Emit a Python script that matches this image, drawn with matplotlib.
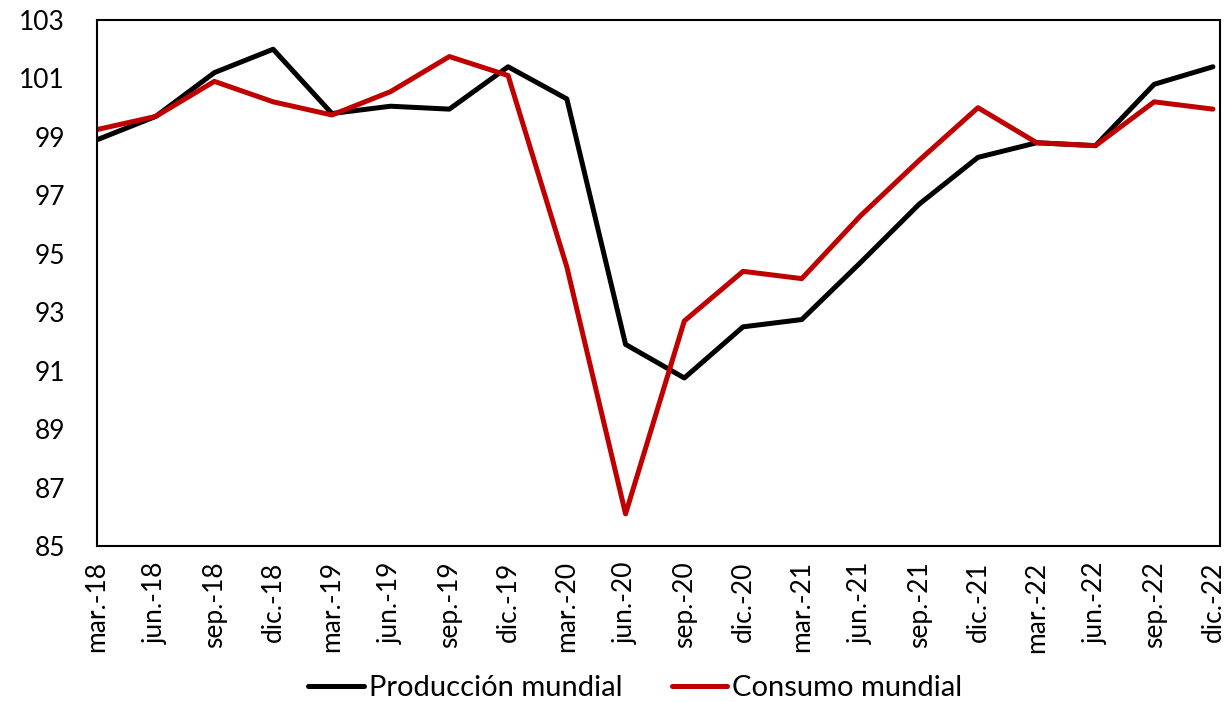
import matplotlib
matplotlib.use('Agg')
import matplotlib.pyplot as plt

plt.rcParams['font.family'] = ['Lato', 'DejaVu Sans']

trimestres = ['mar.-18', 'jun.-18', 'sep.-18', 'dic.-18', 'mar.-19', 'jun.-19', 'sep.-19', 'dic.-19',
              'mar.-20', 'jun.-20', 'sep.-20', 'dic.-20', 'mar.-21', 'jun.-21', 'sep.-21', 'dic.-21',
              'mar.-22', 'jun.-22', 'sep.-22', 'dic.-22']

produccion = [98.9, 99.7, 101.2, 102.0, 99.8, 100.05, 99.95, 101.4,
              100.3, 91.9, 90.75, 92.5, 92.75, 94.7, 96.7, 98.3,
              98.8, 98.7, 100.8, 101.4]

consumo = [99.25, 99.7, 100.9, 100.2, 99.75, 100.55, 101.75, 101.1,
           94.55, 86.1, 92.7, 94.4, 94.15, 96.3, 98.2, 100.0,
           98.8, 98.7, 100.2, 99.95]

fig = plt.figure(figsize=(12.24, 7.02), dpi=100)
ax = fig.add_axes([0.0792, 0.2222, 0.9175, 0.7493])

x = list(range(len(trimestres)))
ax.plot(x, produccion, color='black', lw=3.6, label='Producción mundial', solid_capstyle='round')
ax.plot(x, consumo, color='#C00000', lw=3.6, label='Consumo mundial', solid_capstyle='round')

ax.set_xlim(0, 19.12)
ax.set_ylim(85, 103)
ax.set_yticks(range(85, 104, 2))
ax.set_xticks(x)
ax.set_xticklabels(trimestres, rotation=90, fontsize=19)
ax.tick_params(axis='y', labelsize=19, length=0, pad=23)
ax.tick_params(axis='x', length=0, pad=11)

for s in ax.spines.values():
    s.set_linewidth(1.5)
    s.set_color('black')

# leyenda centrada abajo
fig.legend(loc='center', bbox_to_anchor=(0.519, 0.02), ncol=2, frameon=False,
           fontsize=21, handlelength=1.9, handletextpad=0.17, columnspacing=1.7,
           borderpad=0, borderaxespad=0)

fig.savefig('out.png', dpi=100)
